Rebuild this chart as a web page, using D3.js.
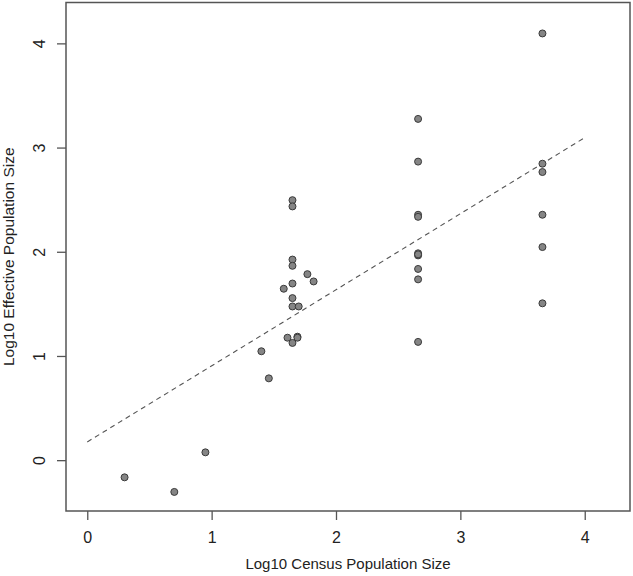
<!DOCTYPE html>
<html>
<head>
<meta charset="utf-8">
<script src="https://cdn.jsdelivr.net/npm/d3@7"></script>
<style>
  html, body { margin: 0; padding: 0; background: #fff; }
  svg { display: block; }
  text { font-family: "Liberation Sans", Arial, sans-serif; fill: #222; }
</style>
</head>
<body>
<svg id="chart" width="633" height="576"></svg>
<script>
// Data: log10 census size (x) and log10 effective size (y)
const censusLog = [
  0.30, 0.70, 0.95,
  1.40, 1.46, 1.58, 1.61, 1.65, 1.65, 1.65, 1.65, 1.65, 1.65, 1.65, 1.65, 1.69, 1.70, 1.69, 1.77, 1.82,
  2.66, 2.66, 2.66, 2.66, 2.66, 2.66, 2.66, 2.66, 2.66, 2.66,
  3.66, 3.66, 3.66, 3.66, 3.66, 3.66
];
const effectiveLog = [
  -0.16, -0.30, 0.08,
  1.05, 0.79, 1.65, 1.18, 2.50, 2.44, 1.93, 1.87, 1.70, 1.56, 1.48, 1.13, 1.19, 1.48, 1.18, 1.79, 1.72,
  3.28, 2.87, 2.36, 2.34, 1.99, 1.97, 1.84, 1.74, 1.14, 1.98,
  4.10, 2.85, 2.77, 2.36, 2.05, 1.51
];
const fitX = [0, 4];
const fitY = [0.18, 3.10];
const xTicks = [0, 1, 2, 3, 4];
const yTicks = [0, 1, 2, 3, 4];
const xTitle = "Log10 Census Population Size";
const yTitle = "Log10 Effective Population Size";

const svg = d3.select("#chart");
const box = { left: 66, right: 630, top: 2.5, bottom: 511 };

const x = d3.scaleLinear().domain([-0.171, 4.364]).range([box.left, box.right]);
const y = d3.scaleLinear().domain([-0.483, 4.397]).range([box.bottom, box.top]);

const axisColor = "#555";

// Axes
const xAxis = svg.append("g")
  .attr("transform", `translate(0,${box.bottom})`)
  .call(d3.axisBottom(x).tickValues(xTicks).tickFormat(d3.format("d")).tickSize(9).tickPadding(12));
xAxis.select(".domain").remove();
xAxis.selectAll("line").attr("stroke", axisColor).attr("stroke-width", 1.3);
xAxis.selectAll("text").style("font-size", "16px").attr("fill", "#222");

const yAxis = svg.append("g")
  .attr("transform", `translate(${box.left},0)`)
  .call(d3.axisLeft(y).tickValues(yTicks).tickFormat(d3.format("d")).tickSize(9).tickPadding(0));
yAxis.select(".domain").remove();
yAxis.selectAll("line").attr("stroke", axisColor).attr("stroke-width", 1.3);
yAxis.selectAll(".tick").attr("transform", null);
yAxis.selectAll(".tick line").attr("y1", d => y(d)).attr("y2", d => y(d));
yAxis.selectAll("text")
  .style("font-size", "16px")
  .attr("fill", "#222")
  .attr("x", 0).attr("y", 0).attr("dy", 0)
  .attr("text-anchor", "middle")
  .attr("transform", d => `translate(-27,${y(d)}) rotate(-90) translate(0,5.5)`);

// Box
svg.append("rect")
  .attr("x", box.left).attr("y", box.top)
  .attr("width", box.right - box.left).attr("height", box.bottom - box.top)
  .attr("fill", "none").attr("stroke", axisColor).attr("stroke-width", 1.5);

// Fit line
const line = d3.line().x(d => x(d[0])).y(d => y(d[1]));
svg.append("path")
  .datum(d3.zip(fitX, fitY))
  .attr("d", line)
  .attr("fill", "none")
  .attr("stroke", "#555")
  .attr("stroke-width", 1.1)
  .attr("stroke-dasharray", "5,4");

// Points
svg.append("g").selectAll("circle")
  .data(d3.zip(censusLog, effectiveLog))
  .join("circle")
  .attr("cx", d => x(d[0]))
  .attr("cy", d => y(d[1]))
  .attr("r", 3.5)
  .attr("fill", "#858585")
  .attr("stroke", "#3a3a3a")
  .attr("stroke-width", 1);

// Titles
svg.append("text")
  .attr("x", (box.left + box.right) / 2)
  .attr("y", 569)
  .attr("text-anchor", "middle")
  .style("font-size", "15px")
  .text(xTitle);

svg.append("text")
  .attr("transform", `translate(14,${(box.top + box.bottom) / 2}) rotate(-90)`)
  .attr("text-anchor", "middle")
  .style("font-size", "15.5px")
  .text(yTitle);
</script>
</body>
</html>
